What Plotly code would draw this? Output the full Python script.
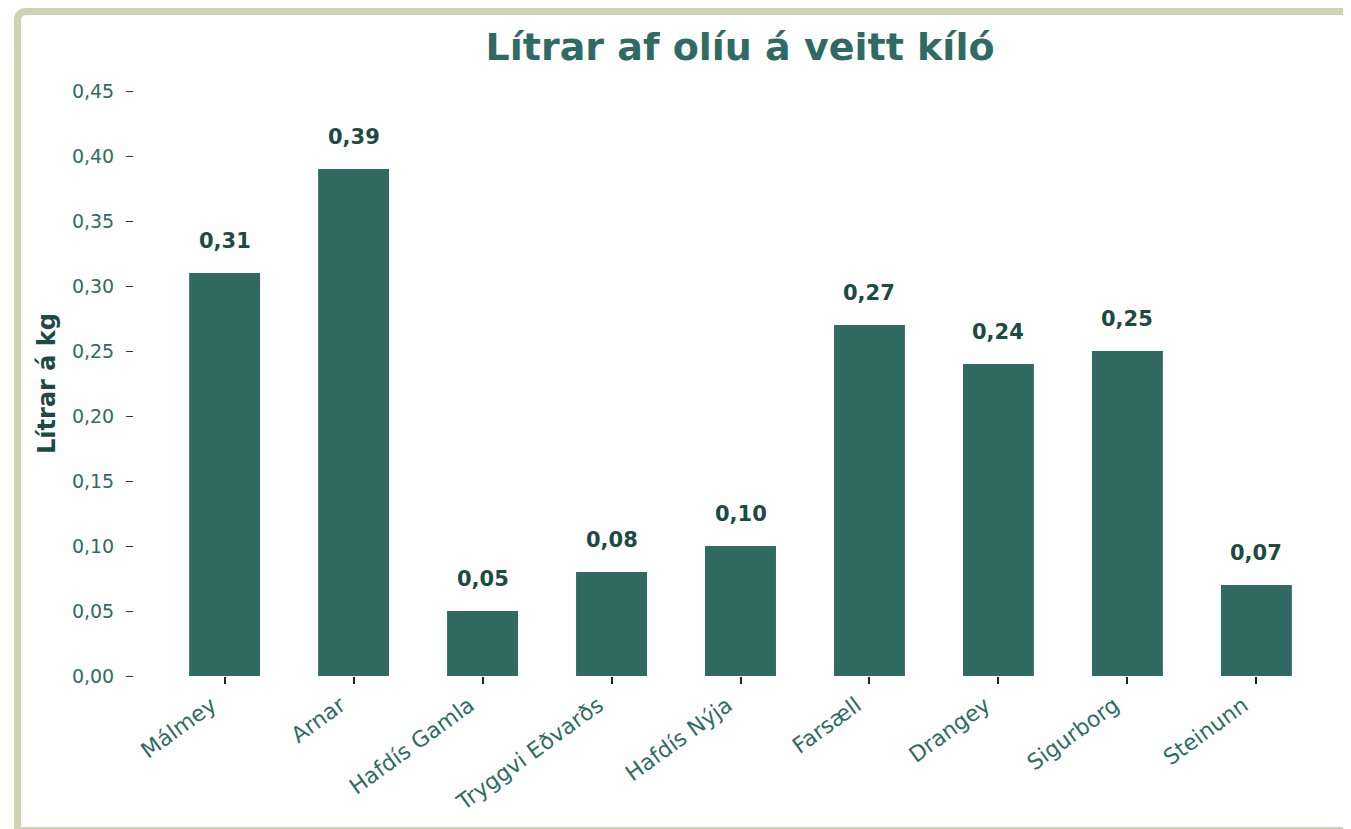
import plotly.graph_objects as go

# data
skip = ["Málmey", "Arnar", "Hafdís Gamla", "Tryggvi Eðvarðs", "Hafdís Nýja",
        "Farsæll", "Drangey", "Sigurborg", "Steinunn"]
litrar_kg = [0.31, 0.39, 0.05, 0.08, 0.10, 0.27, 0.24, 0.25, 0.07]
yticks = [0.00, 0.05, 0.10, 0.15, 0.20, 0.25, 0.30, 0.35, 0.40, 0.45]

# page has an 8px body margin, so figure coords = page coords - 8
W, H = 1351, 829
L, R, T, B = 126, 12, 83, 161
pw, ph = W - L - R, H - T - B

bar_col = "#306a62"
txt_col = "#2f6b62"
dark_col = "#1e4a44"
frame_col = "#d1d1b3"


def px(x):
    return (x - L) / pw


def py(y):
    return (H - B - y) / ph


fig = go.Figure(go.Bar(
    x=list(range(len(skip))), y=litrar_kg,
    width=0.55, marker=dict(color=bar_col, line=dict(width=0)),
))

for i, v in enumerate(litrar_kg):
    fig.add_annotation(x=i, y=v, text="<b>" + f"{v:.2f}".replace(".", ",") + "</b>",
                       showarrow=False, yshift=32, yanchor="middle",
                       font=dict(size=21, color=dark_col, family="DejaVu Sans"),
                       )

# frame round the figure (left + top with rounded corner, bottom edge)
r = 9
fx, fy = 9.5, 3.5
path = (f"M {px(fx)},{py(H + 5)} L {px(fx)},{py(fy + r)} "
        f"Q {px(fx)},{py(fy)} {px(fx + r)},{py(fy)} L {px(W + 10)},{py(fy)}")
fig.add_shape(type="path", path=path, xref="paper", yref="paper",
              line=dict(color=frame_col, width=7), layer="above")
fig.add_shape(type="line", xref="paper", yref="paper",
              x0=px(fx), x1=px(W + 10), y0=py(820), y1=py(820),
              line=dict(color=frame_col, width=2), layer="above")

fig.update_layout(
    width=W, height=H,
    margin=dict(l=L, r=R, t=T, b=B),
    paper_bgcolor="white", plot_bgcolor="white",
    separators=",.",
    showlegend=False,
    font=dict(family="DejaVu Sans", color=txt_col),
    title=dict(text="<b>Lítrar af olíu á veitt kíló</b>", x=732 / W, xanchor="center",
               y=1 - 39 / H, yanchor="middle",
               font=dict(size=38, color=txt_col, family="DejaVu Sans")),
    xaxis=dict(
        tickmode="array", tickvals=list(range(len(skip))), ticktext=skip,
        range=[-0.7025, 8.7025], tickangle=-36,
        ticks="outside", ticklen=7, tickwidth=1.5, tickcolor="#222",
        ticklabelshift=-13,
        tickfont=dict(size=22, color=txt_col),
        showgrid=False, zeroline=False, showline=False,
    ),
    yaxis=dict(
        range=[0, 0.45], tickmode="array", tickvals=yticks, tickformat=".2f",
        ticks="outside", ticklen=7, tickwidth=1.2, tickcolor="#333",
        ticklabelstandoff=8,
        tickfont=dict(size=19, color=txt_col),
        showgrid=False, zeroline=False, showline=False,
        title=dict(text="<b>Lítrar á kg</b>", standoff=9,
                   font=dict(size=24, color=dark_col)),
    ),
)

fig.write_html("out.html")
